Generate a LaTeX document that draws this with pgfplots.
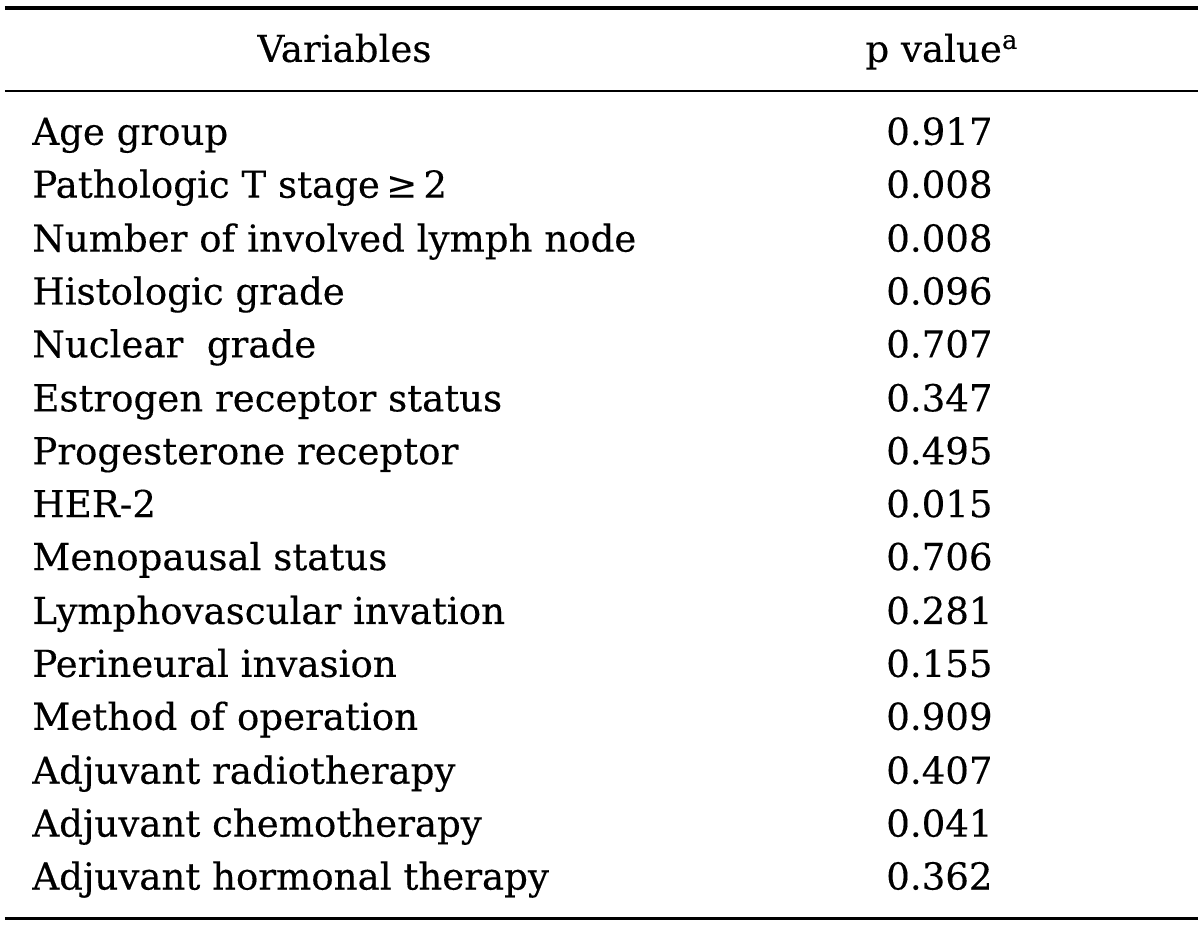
\documentclass[border=0pt]{standalone}
\usepackage{fontspec}
\setmainfont{DejaVu Serif}[FakeBold=0.3]
\usepackage{pgfplots}
\usepackage{pgfplotstable}
\pgfplotsset{compat=1.18}
\pgfplotstableread[col sep=comma]{
y,xname,xval,name,p
145,32,941,Age group,0.917
198,32,941,Pathologic T stage\,≥\,2,0.008
252,32,941,Number of involved lymph node,0.008
305,32,941,Histologic grade,0.096
358,32,941,Nuclear~ grade,0.707
412,32,941,Estrogen receptor status,0.347
465,32,941,Progesterone receptor,0.495
518,32,941,HER-2,0.015
571,32,941,Menopausal status,0.706
625,32,941,Lymphovascular invation,0.281
678,32,941,Perineural invasion,0.155
731,32,941,Method of operation,0.909
785,32,941,Adjuvant radiotherapy,0.407
838,32,941,Adjuvant chemotherapy,0.041
891,32,941,Adjuvant hormonal therapy,0.362
}\datatable
\newcommand{\tabfont}{\fontsize{18.6}{22}\selectfont}
\begin{document}
\begin{tikzpicture}
\begin{axis}[
  width=600pt, height=464.5pt, scale only axis,
  xmin=0, xmax=1200, ymin=0, ymax=929, y dir=reverse,
  axis lines=none, clip=false,
]
% invisible frame for the bounding box
\addplot[draw=none, mark=none] coordinates {(0,0) (1200,929)};
% rules
\addplot[line width=2pt, black, mark=none] coordinates {(5,8) (1200,8)};
\addplot[line width=1.2pt, black, mark=none] coordinates {(5,91) (1200,91)};
\addplot[line width=1.5pt, black, mark=none] coordinates {(5,920) (1200,920)};
% variable names
\addplot[draw=none, mark=none, nodes near coords, point meta=explicit symbolic,
  every node near coord/.append style={anchor=base west, inner sep=0pt, text=black, font=\tabfont}]
  table[x=xname, y=y, meta=name] {\datatable};
% p values
\addplot[draw=none, mark=none, nodes near coords, point meta=explicit symbolic,
  every node near coord/.append style={anchor=base, inner sep=0pt, text=black, font=\tabfont}]
  table[x=xval, y=y, meta=p] {\datatable};
% header
\node[anchor=base, inner sep=0pt, font=\tabfont] at (axis cs:345,62) {Variables};
\node[anchor=base, inner sep=0pt, font=\tabfont] at (axis cs:943,62) {p value\raisebox{6.5pt}{\fontsize{13}{15}\selectfont a}};
\end{axis}
\end{tikzpicture}
\end{document}
